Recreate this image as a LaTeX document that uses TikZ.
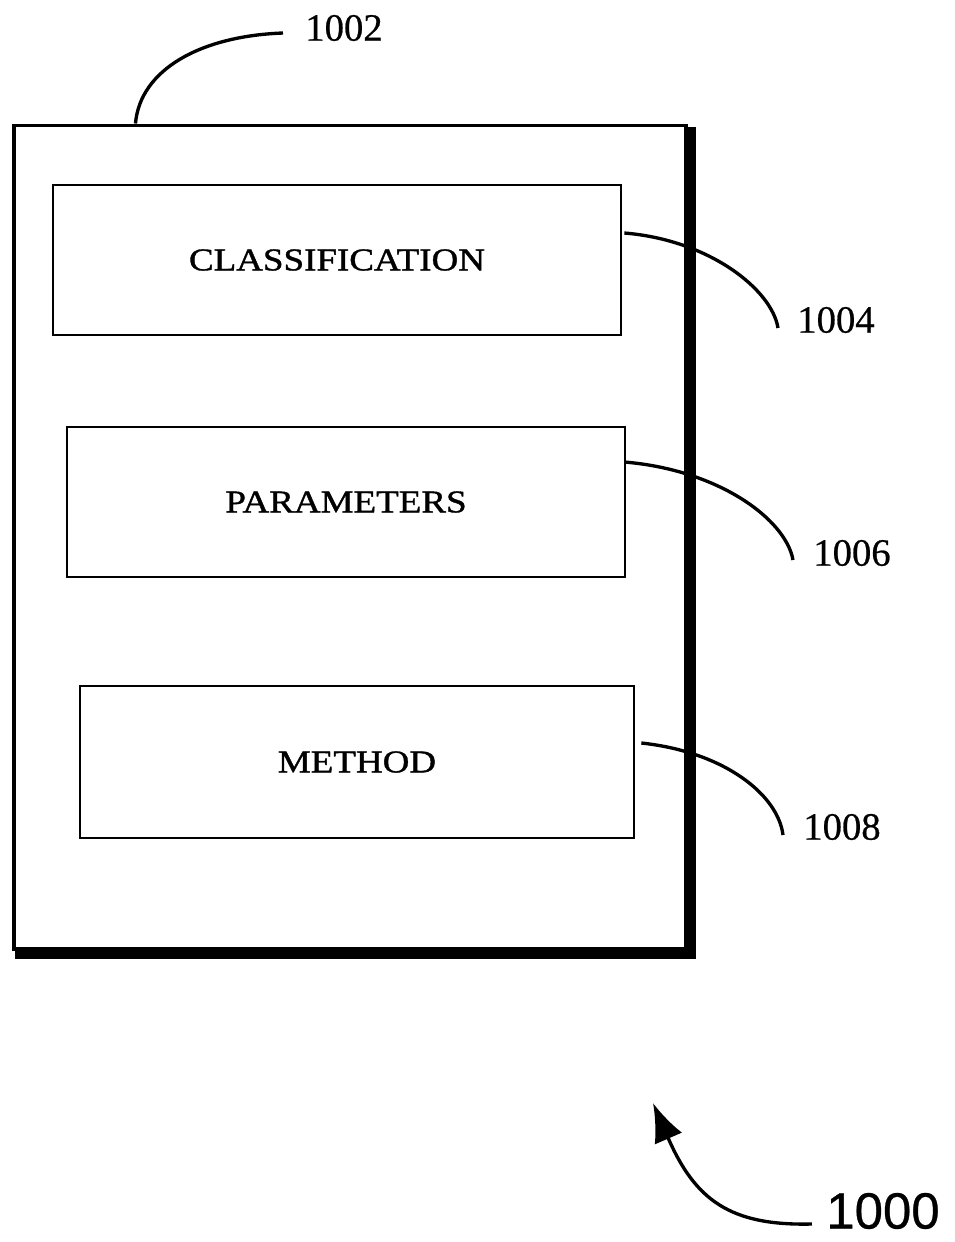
\documentclass[tikz,border=0pt]{standalone}
\usepackage{fontspec}
\setmainfont{Liberation Serif}
\newfontfamily\boxfont[FakeStretch=1.17, FakeBold=1.2]{Liberation Serif}
\newfontfamily\numfont[FakeBold=0.6]{Liberation Serif}
\newfontfamily\arialfont[FakeBold=0.6]{Liberation Sans}
\usetikzlibrary{calc,arrows.meta}
\tikzset{
  field/.style={draw, rectangle, line width=1.6pt, minimum width=11.2cm, minimum height=3cm, font=\boxfont\fontsize{18}{22}\selectfont},
  refnum/.style={inner sep=0pt, font=\numfont\fontsize{22}{26}\selectfont},
  leader/.style={line width=1.9pt}
}
\begin{document}
\begin{tikzpicture}[x=0.02cm, y=-0.02cm]
\useasboundingbox (0,0) rectangle (955,1242);
% outer record with its shadow
\node[draw, rectangle, line width=1.8pt, minimum width=13.44cm, minimum height=16.48cm] (card) at (350,537) {};
\draw[line width=5.7pt] ($(card.north east)+(3,3)$) -- ($(card.south east)+(3,3)$) -- ($(card.south west)+(3,3)$);
\node[field, minimum width=11.36cm] (classif) at (337,260) {CLASSIFICATION};
\node[field, minimum width=11.16cm] (params) at (346,502) {PARAMETERS};
\node[field, minimum width=11.08cm, minimum height=3.04cm] (method) at (357,762) {METHOD};
% reference numerals
\node[refnum] (l1002) at (344,28) {1002};
\node[refnum] (l1004) at (836,320) {1004};
\node[refnum] (l1006) at (852,553) {1006};
\node[refnum] (l1008) at (842,827) {1008};
\node[inner sep=0pt, font=\arialfont\fontsize{29}{33}\selectfont] (l1000) at (883,1211) {1000};
\coordinate (tip) at (653,1103);
% leaders
\draw[leader] ($(card.north west)+(123,0)$) .. controls (140,70) and (200,36) .. ($(l1002.west)+(-22,5)$);
\draw[leader] ($(classif.east)+(2,-27)$) .. controls (710,240) and (772,290) .. ($(l1004.west)+(-19,8)$);
\draw[leader] ($(params.east)+(-2,-40)$) .. controls (720,470) and (786,520) .. ($(l1006.west)+(-20,7)$);
\draw[leader] ($(method.east)+(6,-19)$) .. controls (725,752) and (778,795) .. ($(l1008.west)+(-20,8)$);
\draw[leader, -{Latex[length=22pt, width=17pt]}] ($(l1000.west)+(-14,13)$) .. controls (730,1226) and (695,1200) .. (tip);
\end{tikzpicture}
\end{document}
